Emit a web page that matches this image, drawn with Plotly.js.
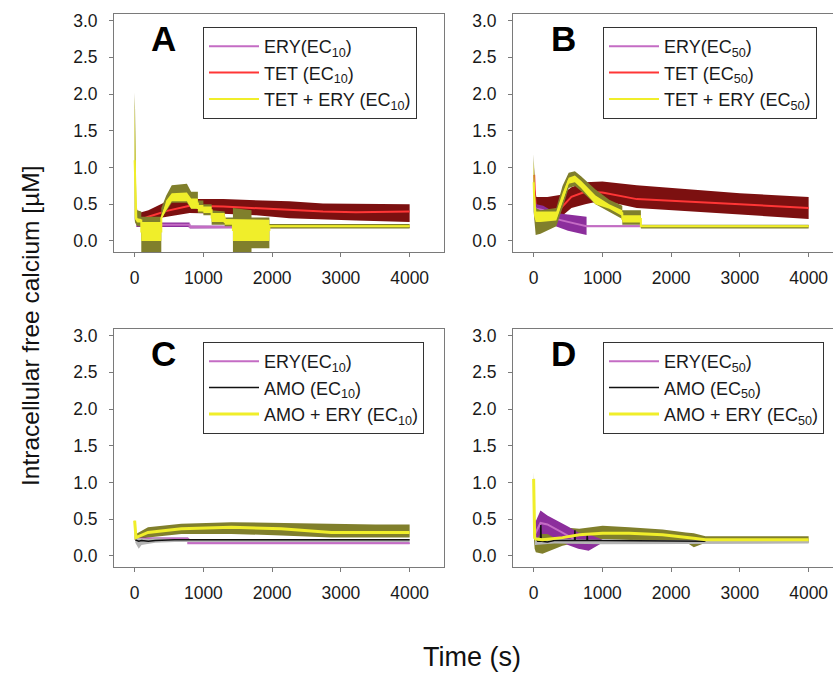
<!DOCTYPE html>
<html>
<head>
<meta charset="utf-8">
<script src="https://cdn.plot.ly/plotly-3.0.1.min.js"></script>
<style>
html,body{margin:0;padding:0;overflow:hidden;background:#fff;}
#chart{width:860px;height:673px;}
</style>
</head>
<body>
<div id="chart"></div>
<script>
// ---------- Panel A : ERY(EC10), TET(EC10), TET+ERY(EC10) ----------
const tEryA   = [25, 800, 800, 1450, 1450, 4000];
const eryA_lo = [0.19, 0.19, 0.17, 0.17, 0.18, 0.18];
const eryA_hi = [0.25, 0.25, 0.21, 0.21, 0.20, 0.20];
const eryA_md = [0.22, 0.22, 0.19, 0.19, 0.19, 0.19];

const tTetA   = [20, 30, 60, 200, 470, 800, 1290, 1770, 2250, 2740, 3220, 4000];
const tetA_md = [0.45, 0.32, 0.28, 0.33, 0.41, 0.48, 0.47, 0.45, 0.42, 0.40, 0.39, 0.40];
const tetA_lo = [0.28, 0.25, 0.24, 0.29, 0.33, 0.38, 0.37, 0.35, 0.31, 0.29, 0.28, 0.26];
const tetA_hi = [0.48, 0.40, 0.38, 0.42, 0.54, 0.57, 0.57, 0.56, 0.54, 0.51, 0.51, 0.50];

const tCmbA = [0, 6, 25, 40, 97, 97, 388, 388, 460, 540, 760, 822, 920, 920, 1000, 1000, 1120, 1120, 1310, 1310, 1430, 1430, 1700, 1700, 1960, 1960, 4000];
const cmbA_oHi = [2.02, 1.80, 0.45, 0.42, 0.40, 0.33, 0.33, 0.45, 0.62, 0.76, 0.78, 0.67, 0.67, 0.55, 0.55, 0.50, 0.50, 0.42, 0.40, 0.32, 0.32, 0.45, 0.42, 0.32, 0.32, 0.23, 0.23];
const cmbA_oLo = [0.30, 0.25, 0.22, 0.20, 0.20, -0.20, -0.20, 0.30, 0.40, 0.52, 0.52, 0.44, 0.44, 0.38, 0.38, 0.35, 0.35, 0.22, 0.22, 0.20, 0.20, -0.20, -0.20, -0.10, -0.10, 0.17, 0.17];
const cmbA_yHi = [1.95, 1.60, 0.34, 0.31, 0.30, 0.26, 0.26, 0.32, 0.55, 0.65, 0.66, 0.58, 0.58, 0.49, 0.49, 0.47, 0.47, 0.38, 0.38, 0.30, 0.30, 0.29, 0.29, 0.29, 0.29, 0.21, 0.21];
const cmbA_yLo = [0.35, 0.30, 0.27, 0.25, 0.25, 0.00, 0.00, 0.30, 0.42, 0.54, 0.54, 0.44, 0.44, 0.40, 0.40, 0.38, 0.38, 0.26, 0.26, 0.22, 0.22, 0.00, 0.00, 0.00, 0.00, 0.19, 0.19];
const cmbA_md  = [1.10, 0.95, 0.30, 0.28, 0.28, 0.13, 0.13, 0.31, 0.48, 0.60, 0.60, 0.51, 0.51, 0.45, 0.45, 0.42, 0.42, 0.32, 0.32, 0.26, 0.26, 0.15, 0.15, 0.15, 0.15, 0.20, 0.20];

// ---------- Panel B : ERY(EC50), TET(EC50), TET+ERY(EC50) ----------
const tEryB   = [20, 40, 140, 320, 500, 770, 770, 4000];
const eryB_hi = [0.55, 0.50, 0.48, 0.38, 0.36, 0.33, 0.21, 0.21];
const eryB_lo = [0.35, 0.38, 0.38, 0.20, 0.14, 0.08, 0.19, 0.19];
const eryB_md = [0.45, 0.44, 0.42, 0.30, 0.26, 0.20, 0.20, 0.20];

const tTetB   = [8, 20, 40, 200, 400, 550, 750, 1000, 1500, 2000, 3000, 4000];
const tetB_md = [0.90, 0.60, 0.38, 0.40, 0.45, 0.60, 0.67, 0.66, 0.57, 0.55, 0.50, 0.45];
const tetB_lo = [0.50, 0.35, 0.30, 0.33, 0.33, 0.45, 0.50, 0.55, 0.45, 0.42, 0.37, 0.30];
const tetB_hi = [1.00, 0.70, 0.60, 0.60, 0.63, 0.73, 0.80, 0.81, 0.76, 0.72, 0.65, 0.60];

const tCmbB = [0, 6, 30, 100, 330, 420, 510, 600, 690, 900, 1100, 1290, 1290, 1560, 1560, 4000];
const cmbB_oHi = [1.18, 1.00, 0.45, 0.42, 0.45, 0.75, 0.93, 0.95, 0.88, 0.70, 0.56, 0.48, 0.42, 0.42, 0.22, 0.22];
const cmbB_oLo = [0.40, 0.30, 0.08, 0.10, 0.20, 0.45, 0.72, 0.75, 0.68, 0.50, 0.40, 0.30, 0.22, 0.22, 0.17, 0.17];
const cmbB_yHi = [1.10, 0.90, 0.40, 0.40, 0.40, 0.65, 0.86, 0.89, 0.82, 0.62, 0.50, 0.42, 0.35, 0.35, 0.21, 0.21];
const cmbB_yLo = [0.50, 0.35, 0.26, 0.26, 0.28, 0.52, 0.78, 0.80, 0.72, 0.50, 0.44, 0.34, 0.25, 0.25, 0.19, 0.19];
const cmbB_md  = [0.80, 0.62, 0.33, 0.33, 0.34, 0.58, 0.82, 0.85, 0.77, 0.56, 0.47, 0.38, 0.30, 0.30, 0.20, 0.20];

// ---------- Panel C : ERY(EC10), AMO(EC10), AMO+ERY(EC10) ----------
const tEryC   = [10, 780, 780, 4000];
const eryC_md = [0.23, 0.23, 0.175, 0.175];
const eryC_lo = [0.21, 0.21, 0.165, 0.165];
const eryC_hi = [0.25, 0.25, 0.185, 0.185];

const tAmoC   = [10, 60, 100, 200, 300, 580, 4000];
const amoC_md = [0.22, 0.20, 0.21, 0.20, 0.21, 0.22, 0.22];
const amoC_lo = [0.18, 0.10, 0.15, 0.17, 0.18, 0.19, 0.19];
const amoC_hi = [0.26, 0.24, 0.24, 0.23, 0.24, 0.23, 0.23];

const tCmbC   = [0, 10, 20, 194, 679, 1406, 2133, 2860, 3500, 4000];
const cmbC_md = [0.48, 0.25, 0.25, 0.32, 0.37, 0.39, 0.37, 0.32, 0.32, 0.32];
const cmbC_lo = [0.22, 0.21, 0.22, 0.25, 0.30, 0.30, 0.28, 0.25, 0.25, 0.25];
const cmbC_hi = [0.50, 0.30, 0.30, 0.39, 0.44, 0.46, 0.45, 0.43, 0.43, 0.43];

// ---------- Panel D : ERY(EC50), AMO(EC50), AMO+ERY(EC50) ----------
const tEryD   = [20, 100, 200, 350, 500, 650, 800, 1000];
const eryD_hi = [0.45, 0.62, 0.55, 0.48, 0.40, 0.32, 0.30, 0.22];
const eryD_lo = [0.20, 0.30, 0.30, 0.22, 0.15, 0.10, 0.07, 0.18];
const eryD_md = [0.30, 0.45, 0.43, 0.35, 0.27, 0.20, 0.18, 0.20];

const tAmoDb  = [20, 300, 1000, 2500, 4000];
const amoD_lo = [0.15, 0.17, 0.16, 0.17, 0.17];
const amoD_hi = [0.25, 0.23, 0.22, 0.21, 0.21];
const tAmoD   = [20, 60, 100, 105, 110, 115, 200, 300, 595, 600, 605, 775, 780, 785, 1000, 2500];
const amoD_md = [0.25, 0.20, 0.20, 0.42, 0.20, 0.20, 0.19, 0.21, 0.21, 0.35, 0.21, 0.21, 0.28, 0.21, 0.21, 0.20];

const tCmbD   = [0, 15, 32, 129, 420, 664, 1004, 1390, 1876, 2215, 2330, 2500, 4000];
const cmbD_md = [1.05, 0.25, 0.23, 0.22, 0.25, 0.29, 0.31, 0.31, 0.29, 0.26, 0.24, 0.22, 0.22];
const cmbD_lo = [0.30, 0.10, 0.05, 0.03, 0.14, 0.19, 0.23, 0.22, 0.20, 0.19, 0.12, 0.18, 0.18];
const cmbD_hi = [1.14, 0.50, 0.48, 0.46, 0.39, 0.37, 0.41, 0.39, 0.36, 0.32, 0.31, 0.27, 0.27];

// ---------- labels ----------
const panelLetters = ["A", "B", "C", "D"];
const namesA = ["ERY(EC<sub>10</sub>)", "TET (EC<sub>10</sub>)", "TET + ERY (EC<sub>10</sub>)"];
const namesB = ["ERY(EC<sub>50</sub>)", "TET (EC<sub>50</sub>)", "TET + ERY (EC<sub>50</sub>)"];
const namesC = ["ERY(EC<sub>10</sub>)", "AMO (EC<sub>10</sub>)", "AMO + ERY (EC<sub>10</sub>)"];
const namesD = ["ERY(EC<sub>50</sub>)", "AMO (EC<sub>50</sub>)", "AMO + ERY (EC<sub>50</sub>)"];
const xTicks = [0, 1000, 2000, 3000, 4000];
const yTicks = [0, 0.5, 1.0, 1.5, 2.0, 2.5, 3.0];

// ---------- styling ----------
const FONT = "Liberation Sans, Arial, Helvetica, sans-serif";
const C = {
  purpleBand: "#8c2e9c", purpleLine: "#c46cc4",
  redBand: "#7c1010", redLine: "#ff3636",
  oliveBand: "#807f2c", yellow: "#f0ee2a",
  grayBand: "#b4b4b4", black: "#111111"
};
const W = 860, H = 673;

function band(x, lo, hi, color, xa, ya) {
  return [
    {x: x, y: lo, xaxis: xa, yaxis: ya, mode: "lines", line: {width: 0, color: color},
     showlegend: false, hoverinfo: "skip"},
    {x: x, y: hi, xaxis: xa, yaxis: ya, mode: "lines", line: {width: 0, color: color},
     fill: "tonexty", fillcolor: color, showlegend: false, hoverinfo: "skip"}
  ];
}
function line(x, y, color, width, name, leg, rank, xa, ya) {
  return {x: x, y: y, xaxis: xa, yaxis: ya, mode: "lines", name: name,
          line: {color: color, width: width}, legend: leg, legendrank: rank,
          showlegend: true};
}

let data = [];
// A
data = data.concat(band(tTetA, tetA_lo, tetA_hi, C.redBand, "x", "y"));
data.push(line(tTetA, tetA_md, C.redLine, 2, namesA[1], "legend", 2, "x", "y"));
data = data.concat(band(tEryA, eryA_lo, eryA_hi, C.purpleBand, "x", "y"));
data.push(line(tEryA, eryA_md, C.purpleLine, 2, namesA[0], "legend", 1, "x", "y"));
data = data.concat(band(tCmbA, cmbA_oLo, cmbA_oHi, C.oliveBand, "x", "y"));
data = data.concat(band(tCmbA, cmbA_yLo, cmbA_yHi, C.yellow, "x", "y"));
data.push(line(tCmbA, cmbA_md, C.yellow, 2, namesA[2], "legend", 3, "x", "y"));
// B
data = data.concat(band(tTetB, tetB_lo, tetB_hi, C.redBand, "x2", "y2"));
data.push(line(tTetB, tetB_md, C.redLine, 2, namesB[1], "legend2", 2, "x2", "y2"));
data = data.concat(band(tEryB, eryB_lo, eryB_hi, C.purpleBand, "x2", "y2"));
data.push(line(tEryB, eryB_md, C.purpleLine, 2, namesB[0], "legend2", 1, "x2", "y2"));
data = data.concat(band(tCmbB, cmbB_oLo, cmbB_oHi, C.oliveBand, "x2", "y2"));
data = data.concat(band(tCmbB, cmbB_yLo, cmbB_yHi, C.yellow, "x2", "y2"));
data.push(line(tCmbB, cmbB_md, C.yellow, 2, namesB[2], "legend2", 3, "x2", "y2"));
// C
data = data.concat(band(tCmbC, cmbC_lo, cmbC_hi, C.oliveBand, "x3", "y3"));
data = data.concat(band(tEryC, eryC_lo, eryC_hi, C.purpleBand, "x3", "y3"));
data.push(line(tEryC, eryC_md, C.purpleLine, 2, namesC[0], "legend3", 1, "x3", "y3"));
data = data.concat(band(tAmoC, amoC_lo, amoC_hi, C.grayBand, "x3", "y3"));
data.push(line(tAmoC, amoC_md, C.black, 1.5, namesC[1], "legend3", 2, "x3", "y3"));
data.push(line(tCmbC, cmbC_md, C.yellow, 3, namesC[2], "legend3", 3, "x3", "y3"));
// D
data = data.concat(band(tCmbD, cmbD_lo, cmbD_hi, C.oliveBand, "x4", "y4"));
data = data.concat(band(tEryD, eryD_lo, eryD_hi, C.purpleBand, "x4", "y4"));
data.push(line(tEryD, eryD_md, C.purpleLine, 2, namesD[0], "legend4", 1, "x4", "y4"));
data = data.concat(band(tAmoDb, amoD_lo, amoD_hi, C.grayBand, "x4", "y4"));
data.push(line(tAmoD, amoD_md, C.black, 1.5, namesD[1], "legend4", 2, "x4", "y4"));
data.push(line(tCmbD, cmbD_md, C.yellow, 3, namesD[2], "legend4", 3, "x4", "y4"));

function xax(l, r, anchor) {
  return {domain: [l / W, r / W], range: [-300, 4500], anchor: anchor,
          tickvals: xTicks, ticktext: xTicks.map(String),
          showline: true, linecolor: "#7a7a7a", linewidth: 1, mirror: true,
          ticks: "outside", ticklen: 4, tickcolor: "#7a7a7a", ticklabelstandoff: 6,
          showgrid: false, zeroline: false,
          tickfont: {family: FONT, size: 17.5, color: "#1a1a1a"}};
}
function yax(top, bot, anchor) {
  return {domain: [1 - bot / H, 1 - top / H], range: [-0.15, 3.09], anchor: anchor,
          tickvals: yTicks, ticktext: yTicks.map(v => v.toFixed(1)),
          showline: true, linecolor: "#7a7a7a", linewidth: 1, mirror: true,
          ticks: "outside", ticklen: 4, tickcolor: "#7a7a7a", ticklabelstandoff: 8,
          showgrid: false, zeroline: false,
          tickfont: {family: FONT, size: 17.5, color: "#1a1a1a"}};
}
function leg(left, top) {
  return {x: left / W, y: 1 - top / H, xanchor: "left", yanchor: "top",
          bgcolor: "rgba(255,255,255,1)", bordercolor: "#333", borderwidth: 1,
          font: {family: FONT, size: 18, color: "#1a1a1a"},
          itemwidth: 50, tracegroupgap: 0, traceorder: "normal"};
}
function letter(txt, cx, cy) {
  return {text: "<b>" + txt + "</b>", xref: "paper", yref: "paper",
          x: cx / W, y: 1 - cy / H, xanchor: "center", yanchor: "middle",
          showarrow: false, font: {family: FONT, size: 35, color: "#000"}};
}

const layout = {
  width: W, height: H,
  margin: {l: 0, r: 0, t: 0, b: 0},
  paper_bgcolor: "#fff", plot_bgcolor: "#fff",
  showlegend: true,
  xaxis: xax(114, 444, "y"),  yaxis: yax(14, 252, "x"),
  xaxis2: xax(513, 843, "y2"), yaxis2: yax(14, 252, "x2"),
  xaxis3: xax(114, 444, "y3"), yaxis3: yax(329, 567, "x3"),
  xaxis4: xax(513, 843, "y4"), yaxis4: yax(329, 567, "x4"),
  legend: leg(203, 27), legend2: leg(603, 27),
  legend3: leg(203, 342), legend4: leg(603, 342),
  annotations: [
    letter(panelLetters[0], 163, 38), letter(panelLetters[1], 563, 38),
    letter(panelLetters[2], 163, 353), letter(panelLetters[3], 563, 353),
    {text: "Intracellular free calcium [µM]", xref: "paper", yref: "paper",
     x: 30 / W, y: 1 - 326 / H, textangle: -90, showarrow: false,
     xanchor: "center", yanchor: "middle",
     font: {family: FONT, size: 24.5, color: "#111"}},
    {text: "Time (s)", xref: "paper", yref: "paper",
     x: 472 / W, y: 1 - 657 / H, showarrow: false,
     xanchor: "center", yanchor: "middle",
     font: {family: FONT, size: 27, color: "#111"}}
  ]
};

Plotly.newPlot("chart", data, layout, {displayModeBar: false, staticPlot: true});
</script>
</body>
</html>
